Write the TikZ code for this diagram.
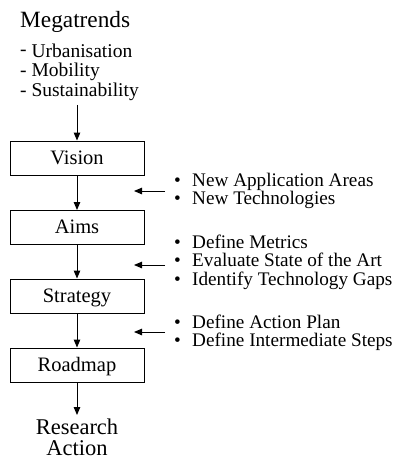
\documentclass[tikz,border=0pt]{standalone}
\usepackage{fontspec}
\setmainfont{Liberation Serif}
\usetikzlibrary{arrows.meta}
\begin{document}
\begin{tikzpicture}[x=1pt,y=-1pt,
  stagebox/.style={draw,line width=1pt,minimum width=134pt,minimum height=34pt,inner sep=0pt,
    text height=13.5pt,text depth=1.5pt,font=\fontsize{20.5}{24}\selectfont},
  flow/.style={line width=1pt,-{Triangle[length=8pt,width=6.5pt]}},
  listtxt/.style={anchor=base west,inner sep=0pt,font=\fontsize{19.5}{22}\selectfont},
  sidetxt/.style={anchor=base west,inner sep=0pt,font=\fontsize{19.2}{22}\selectfont},
  bigtxt/.style={inner sep=0pt,font=\fontsize{23.3}{26}\selectfont},
  endtxt/.style={inner sep=0pt,text depth=0pt,font=\fontsize{22.5}{21}\selectfont}]
\useasboundingbox (0,0) rectangle (394,461);
% megatrends
\node[bigtxt,anchor=base west] (mega) at (20,27) {Megatrends};
\node[listtxt] (l1) at (20,57) {\raisebox{2pt}{-} Urbanisation};
\node[listtxt] (l2) at (20,76.5) {- Mobility};
\node[listtxt,inner ysep=4pt] (l3) at (20,96.5) {- Sustainability};
% stages
\node[stagebox] (vision) at (77,158) {Vision};
\node[stagebox] (aims) at (77,227.5) {Aims};
\node[stagebox] (strategy) at (77,296) {Strategy};
\node[stagebox] (roadmap) at (77,365) {Roadmap};
\node[endtxt,anchor=north,align=center] (research) at (77,419) {Research\\Action};
% vertical flow
\draw[flow] (l3.south -| vision.north) -- (vision);
\draw[flow] (vision) -- (aims);
\draw[flow] (aims) -- (strategy);
\draw[flow] (strategy) -- (roadmap);
\draw[flow,shorten >=4pt] (roadmap) -- (research);
% side texts
\node[sidetxt] (s1a) at (174,186) {\textbullet\hspace{11.3pt}New Application Areas};
\node[sidetxt] (s1b) at (174,204) {\textbullet\hspace{11.3pt}New Technologies};
\node[sidetxt] (s2a) at (174,248) {\textbullet\hspace{11.3pt}Define Metrics};
\node[sidetxt] (s2b) at (174,266.7) {\textbullet\hspace{11.3pt}Evaluate State of the Art};
\node[sidetxt] (s2c) at (174,285) {\textbullet\hspace{11.3pt}Identify Technology Gaps};
\node[sidetxt] (s3a) at (174,328) {\textbullet\hspace{11.3pt}Define Action Plan};
\node[sidetxt] (s3b) at (174,346.7) {\textbullet\hspace{11.3pt}Define Intermediate Steps};
% side arrows
\coordinate (b1) at (165,191);
\coordinate (e1) at (134,191);
\coordinate (b2) at (165,265);
\coordinate (e2) at (134,265);
\coordinate (b3) at (165,332);
\coordinate (e3) at (134,332);
\draw[flow] (b1) -- (e1);
\draw[flow] (b2) -- (e2);
\draw[flow] (b3) -- (e3);
\end{tikzpicture}
\end{document}
